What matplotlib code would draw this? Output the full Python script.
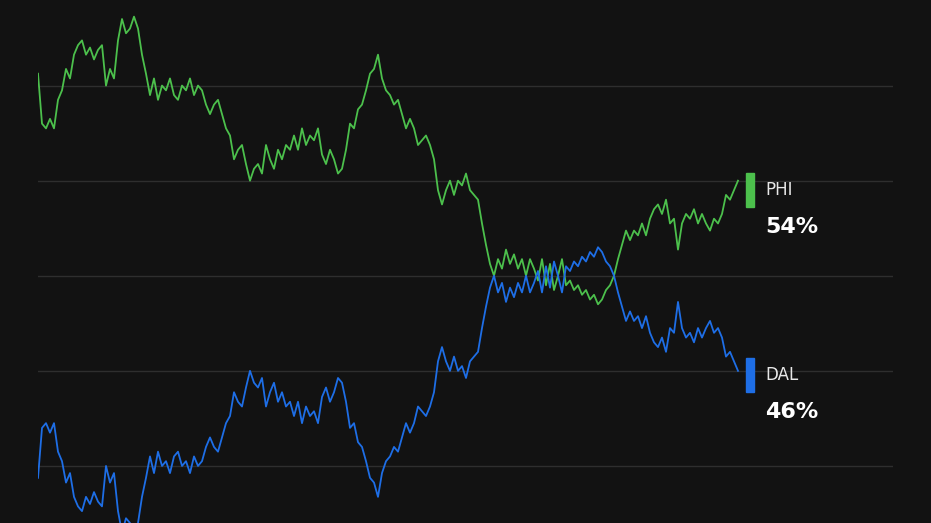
import matplotlib.pyplot as plt
import numpy as np

# PHI win probability (%); DAL is the complement
phi = [58.5, 56.4, 56.2, 56.6, 56.2, 57.4, 57.8, 58.7, 58.3, 59.3, 59.7, 59.9, 59.3, 59.6, 59.1, 59.5,
       59.7, 58.0, 58.7, 58.3, 59.9, 60.8, 60.2, 60.4, 60.9, 60.4, 59.3, 58.5, 57.6, 58.3, 57.4, 58.0,
       57.8, 58.3, 57.6, 57.4, 58.0, 57.8, 58.3, 57.6, 58.0, 57.8, 57.2, 56.8, 57.2, 57.4, 56.8, 56.2,
       55.9, 54.9, 55.3, 55.5, 54.7, 54.0, 54.5, 54.7, 54.3, 55.5, 54.9, 54.5, 55.3, 54.9, 55.5, 55.3,
       55.9, 55.3, 56.2, 55.5, 55.9, 55.7, 56.2, 55.1, 54.7, 55.3, 54.9, 54.3, 54.5, 55.3, 56.4, 56.2,
       57.0, 57.2, 57.8, 58.5, 58.7, 59.3, 58.3, 57.8, 57.6, 57.2, 57.4, 56.8, 56.2, 56.6, 56.2, 55.5,
       55.7, 55.9, 55.5, 54.9, 53.6, 53.0, 53.6, 54.0, 53.4, 54.0, 53.8, 54.3, 53.6, 53.4, 53.2, 52.2,
       51.3, 50.5, 50.0, 50.7, 50.3, 51.1, 50.5, 50.9, 50.3, 50.7, 50.0, 50.7, 50.3, 49.8, 50.7, 49.6,
       50.5, 49.4, 50.0, 50.7, 49.6, 49.8, 49.4, 49.6, 49.2, 49.4, 49.0, 49.2, 48.8, 49.0, 49.4, 49.6,
       50.0, 50.7, 51.3, 51.9, 51.5, 51.9, 51.7, 52.2, 51.7, 52.4, 52.8, 53.0, 52.6, 53.2, 52.2, 52.4,
       51.1, 52.2, 52.6, 52.4, 52.8, 52.2, 52.6, 52.2, 51.9, 52.4, 52.2, 52.6, 53.4, 53.2, 53.6, 54.0]
dal = [100 - v for v in phi]
teams = ['PHI', 'DAL']
final = ['54%', '46%']

green = '#4cc04c'
blue = '#1e6ee6'
bg = '#121212'

fig = plt.figure(figsize=(9.31, 5.23), dpi=100, facecolor=bg)
ax = fig.add_axes([38 / 931, 0, (893 - 38) / 931, 1])
ax.set_facecolor(bg)
x = np.arange(len(phi))
ax.set_xlim(0, (893 - 38) / 4)
ax.set_ylim(39.6, 61.6)
for g in [42, 46, 50, 54, 58]:
    ax.axhline(g, color='#2e2e2e', lw=1, zorder=0)
ax.plot(x, phi, color=green, lw=1.3)
ax.plot(x, dal, color=blue, lw=1.3)
for s in ax.spines.values():
    s.set_visible(False)
ax.set_xticks([])
ax.set_yticks([])

# end labels
for ypx, col, name, pct in [(190, green, teams[0], final[0]), (375, blue, teams[1], final[1])]:
    fy = 1 - ypx / 523
    fig.patches.append(plt.Rectangle((746 / 931, fy - 17 / 523), 8 / 931, 34 / 523,
                                     transform=fig.transFigure, color=col))
    fig.text(765 / 931, fy, name, color='#e8e8e8', fontsize=12, va='center')
    fig.text(765 / 931, fy - 37 / 523, pct, color='white', fontsize=16, fontweight='bold', va='center')

fig.savefig('out.png', dpi=100, facecolor=bg)
